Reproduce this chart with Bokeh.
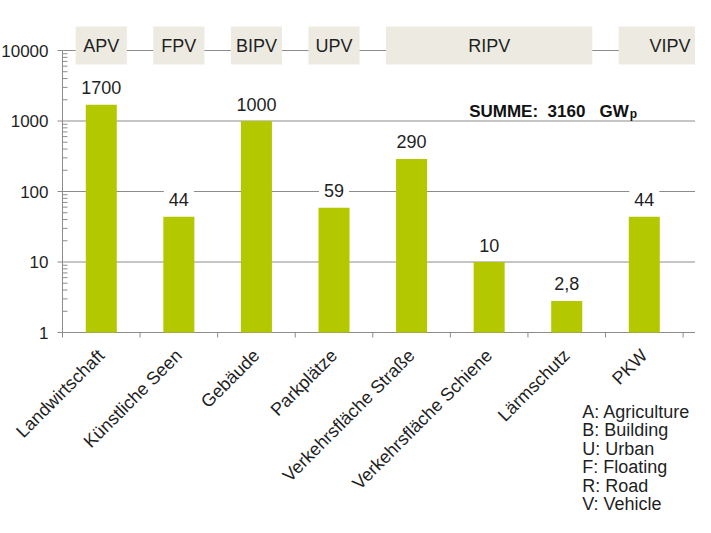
import math
from bokeh.plotting import figure
from bokeh.models import Range1d, Label
from bokeh.core.properties import value
from bokeh.embed import file_html
from bokeh.resources import INLINE

# Data (PV potential in GWp, log scale)
categories = ["Landwirtschaft", "Künstliche Seen", "Gebäude", "Parkplätze",
              "Verkehrsfläche Straße", "Verkehrsfläche Schiene", "Lärmschutz", "PKW"]
potential_gw = [1700, 44, 1000, 59, 290, 10, 2.8, 44]

groups = ["APV", "FPV", "BIPV", "UPV", "RIPV", "VIPV"]
group_first = [0, 1, 2, 3, 4, 7]
group_last = [0, 1, 2, 3, 6, 8]

y_ticks = [1, 10, 100, 1000, 10000]
total_gw = 3160
abbreviations = ["A: Agriculture", "B: Building", "U: Urban",
                 "F: Floating", "R: Road", "V: Vehicle"]

FONT = "Liberation Sans"
TEXT = "#1f1f1f"
GREY = "#8c8c8c"
BAR = "#B4C800"
BOX = "#EDEBE1"

W, H = 695, 517
AXIS_X, AXIS_Y = 62, 332      # pixel position of the axes' corner
X_END = 7.66
CAT_PX = (W - AXIS_X) / (X_END + 0.5)   # pixels per category
DECADE_PX = 70.5                        # pixels per decade


def dx(px):
    return px / CAT_PX


def fy(px):
    return 10 ** (px / DECADE_PX)


# the frame covers the whole canvas; axes are drawn by hand so that long labels fit
p = figure(width=W, height=H,
           x_range=Range1d(-0.5 - dx(AXIS_X), X_END),
           y_range=Range1d(1 / fy(H - AXIS_Y), fy(AXIS_Y)),
           y_axis_type="log", output_backend="svg", toolbar_location=None,
           min_border=0)
p.outline_line_color = None
p.grid.visible = False
p.axis.visible = False

# horizontal gridlines (the one at 1 doubles as x axis)
p.segment(x0=-0.5, y0=y_ticks, x1=X_END, y1=y_ticks, line_color=GREY, line_width=1)

# y axis
minor = [t * k for t in y_ticks[:-1] for k in range(2, 10)]
p.segment(x0=-0.5, y0=1, x1=-0.5, y1=10000, line_color=GREY)
p.segment(x0=-0.5 - dx(5), y0=y_ticks, x1=-0.5, y1=y_ticks, line_color=GREY)
p.segment(x0=-0.5, y0=minor, x1=-0.5 + dx(5), y1=minor, line_color=GREY)
p.text(x=-0.5, y=y_ticks, text=[str(t) for t in y_ticks], x_offset=-14,
       text_align="right", text_baseline="middle",
       text_font=value(FONT), text_font_size="17px", text_color=TEXT)

# x axis ticks between categories and rotated category names
xs = list(range(len(categories)))
bounds = [i - 0.5 for i in range(len(xs) + 1)]
p.segment(x0=bounds, y0=1, x1=bounds, y1=1 / fy(5), line_color=GREY)
p.text(x=xs, y=1, text=categories, angle=math.pi / 4,
       text_align="right", text_baseline="middle", x_offset=0, y_offset=20,
       text_font=value(FONT), text_font_size="18px", text_color=TEXT)

# group boxes on top (APV, FPV ...)
box_left = [f - 0.33 for f in group_first]
box_right = [l + 0.33 for l in group_last]
p.quad(left=box_left, right=box_right, top=fy(AXIS_Y - 26), bottom=fy(AXIS_Y - 64),
       fill_color=BOX, line_color=None)
box_mid = [min((a + b) / 2, X_END - 0.33) for a, b in zip(box_left, box_right)]
p.text(x=box_mid, y=fy(AXIS_Y - 45), text=groups,
       text_align="center", text_baseline="middle", text_color=TEXT,
       text_font=value(FONT), text_font_size="18px")

# bars
p.vbar(x=xs, top=potential_gw, bottom=1, width=0.4, fill_color=BAR, line_color=None)

for x, v in zip(xs, potential_gw):
    p.add_layout(Label(x=x, y=v, y_offset=17, text=f"{v:g}".replace(".", ","),
                       text_align="center", text_baseline="alphabetic",
                       text_font=FONT, text_font_size="18px", text_color=TEXT,
                       background_fill_color="white", padding=5))

# sum note
p.add_layout(Label(x=6.8, y=1000, y_offset=10,
                   text=f"SUMME:\u00a0\u00a0{total_gw}\u00a0\u00a0\u00a0GW",
                   text_align="right", text_baseline="alphabetic",
                   text_font=FONT, text_font_style="bold", text_font_size="17px",
                   text_color="#111111"))
p.add_layout(Label(x=6.8, x_offset=1, y=1000, y_offset=7, text="p",
                   text_align="left", text_baseline="alphabetic",
                   text_font=FONT, text_font_style="bold", text_font_size="12px",
                   text_color="#111111"))

# abbreviations, bottom right
for i, s in enumerate(abbreviations):
    p.add_layout(Label(x=6.2, y=1, y_offset=-(79 + 18.5 * i), text=s,
                       text_align="left", text_baseline="alphabetic",
                       text_font=FONT, text_font_size="18px", text_color=TEXT))

open("out.html", "w").write(file_html(p, INLINE))
